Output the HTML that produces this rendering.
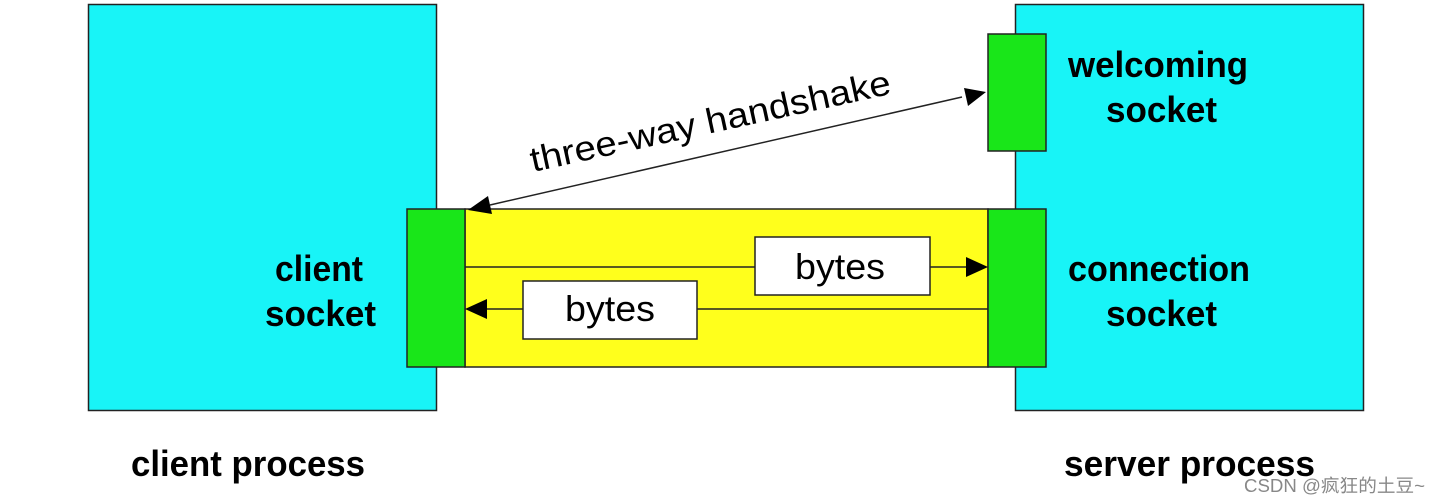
<!DOCTYPE html>
<html><head><meta charset="utf-8"><style>html,body{margin:0;padding:0;background:#fff}svg{display:block}</style></head>
<body>
<svg width="1441" height="503" viewBox="0 0 1441 503" xmlns="http://www.w3.org/2000/svg" font-family="Liberation Sans, Arial, sans-serif">
<rect x="88.5" y="4.5" width="348" height="406" fill="#18f4f7" stroke="#222" stroke-width="1.5"/>
<rect x="1015.5" y="4.5" width="348" height="406" fill="#18f4f7" stroke="#222" stroke-width="1.5"/>
<rect x="988" y="34" width="58" height="117" fill="#19e619" stroke="#222" stroke-width="1.5"/>
<rect x="465" y="209" width="523" height="158" fill="#ffff1c" stroke="#222" stroke-width="1.5"/>
<rect x="407" y="209" width="58" height="158" fill="#19e619" stroke="#222" stroke-width="1.5"/>
<rect x="988" y="209" width="58" height="158" fill="#19e619" stroke="#222" stroke-width="1.5"/>
<line x1="465" y1="267" x2="755" y2="267" stroke="#222" stroke-width="1.5"/>
<line x1="930" y1="267" x2="966" y2="267" stroke="#222" stroke-width="1.5"/>
<path d="M988,267 L966,257 L966,277 z" fill="#000"/>
<line x1="988" y1="309" x2="697" y2="309" stroke="#222" stroke-width="1.5"/>
<line x1="523" y1="309" x2="487" y2="309" stroke="#222" stroke-width="1.5"/>
<path d="M465,309 L487,299 L487,319 z" fill="#000"/>
<rect x="755" y="237" width="175" height="58" fill="#fff" stroke="#222" stroke-width="1.5"/>
<rect x="523" y="281" width="174" height="58" fill="#fff" stroke="#222" stroke-width="1.5"/>
<text x="795" y="279" font-size="36" textLength="90" lengthAdjust="spacingAndGlyphs">bytes</text>
<text x="565" y="321" font-size="36" textLength="90" lengthAdjust="spacingAndGlyphs">bytes</text>
<line x1="490" y1="205" x2="962" y2="97" stroke="#222" stroke-width="1.5"/>
<path d="M468,210 L488,196 L492,214 z" fill="#000"/>
<path d="M986,92 L964,88 L968,106 z" fill="#000"/>
<text font-size="35" transform="translate(533,172) rotate(-12.3)" textLength="368" lengthAdjust="spacingAndGlyphs">three-way handshake</text>
<g font-size="36" font-weight="bold" fill="#000">
<text x="1068" y="77" textLength="180" lengthAdjust="spacingAndGlyphs">welcoming</text>
<text x="1106" y="122" textLength="111" lengthAdjust="spacingAndGlyphs">socket</text>
<text x="275" y="281" textLength="88" lengthAdjust="spacingAndGlyphs">client</text>
<text x="265" y="326" textLength="111" lengthAdjust="spacingAndGlyphs">socket</text>
<text x="1068" y="281" textLength="182" lengthAdjust="spacingAndGlyphs">connection</text>
<text x="1106" y="326" textLength="111" lengthAdjust="spacingAndGlyphs">socket</text>
<text x="131" y="476" textLength="234" lengthAdjust="spacingAndGlyphs">client process</text>
<text x="1064" y="476" textLength="251" lengthAdjust="spacingAndGlyphs">server process</text>
</g>
<text x="1244" y="492" font-size="18" fill="#888" font-family="Liberation Sans, Noto Sans CJK SC, sans-serif" textLength="181" lengthAdjust="spacingAndGlyphs">CSDN @疯狂的土豆~</text>
</svg>
</body></html>
